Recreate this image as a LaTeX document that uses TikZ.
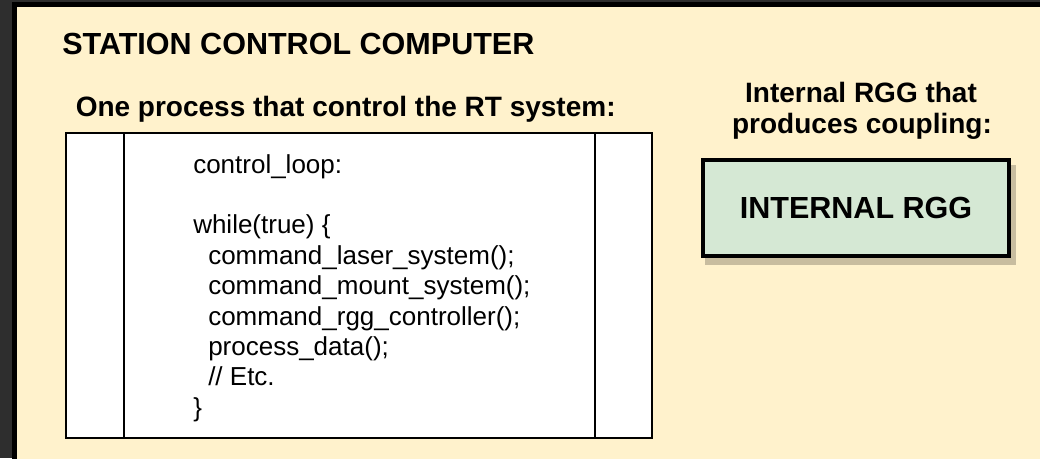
\documentclass[tikz,border=0pt]{standalone}
\usepackage{fontspec}
\setmainfont{Liberation Sans}
\definecolor{framegray}{HTML}{2E2E2E}
\definecolor{cream}{HTML}{FFF2CC}
\definecolor{rggfill}{HTML}{D5E8D4}
\definecolor{shadowtan}{HTML}{C8BD9F}
\begin{document}
\begin{tikzpicture}[x=0.75pt,y=-0.75pt,
  heading/.style={inner sep=0pt, font=\bfseries\fontsize{21}{24}\selectfont},
  code/.style={anchor=base west, inner sep=0pt, font=\fontsize{19.5}{23}\selectfont}]
\useasboundingbox (0,0) rectangle (1040,458);
\clip (0,0) rectangle (1040,458);

% outer frame of the station panel
\fill[framegray] (0,0) rectangle (1040,458);
\fill[black] (12,2) rectangle (1070,490);
\fill[cream] (16.5,7) rectangle (1070,490);

\node[anchor=base west, inner sep=0pt, font=\bfseries\fontsize{22.9}{27}\selectfont]
  (title) at (62,54.3) {STATION CONTROL COMPUTER};

% process box with its two side bars
\node[anchor=base west, heading] (prochead) at (75.5,116.7)
  {One process that control the RT system:};
\node[draw, fill=white, line width=1.5pt, anchor=north west, inner sep=0pt,
  minimum width=439.5pt, minimum height=228.75pt] (proc) at (65,132) {};
\draw[line width=1.5pt] ([xshift=44.25pt]proc.north west) -- ([xshift=44.25pt]proc.south west);
\draw[line width=1.5pt] ([xshift=-43.5pt]proc.north east) -- ([xshift=-43.5pt]proc.south east);

\node[code] (l1) at (193,173) {control\_loop:};
\node[code] (l2) at (193,233.8) {while(true) \{};
\node[code] (l3) at (208,264.2) {command\_laser\_system();};
\node[code] (l4) at (208,294.6) {command\_mount\_system();};
\node[code] (l5) at (208,325) {command\_rgg\_controller();};
\node[code] (l6) at (208,355.4) {process\_data();};
\node[code] (l7) at (208,385.8) {// Etc.};
\node[code] (l8) at (193,416.2) {\}};

% internal RGG block
\node[anchor=base, heading] (rgghead1) at (861,102) {Internal RGG that};
\node[anchor=base, heading] (rgghead2) at (862,133) {produces coupling:};
\fill[shadowtan] (705,165) rectangle (1016,265);
\node[draw, fill=rggfill, line width=3pt, anchor=north west, inner sep=0pt,
  minimum width=229.5pt, minimum height=72pt,
  font=\bfseries\fontsize{22.9}{27}\selectfont] (rgg) at (701,158) {INTERNAL RGG};
\end{tikzpicture}
\end{document}
